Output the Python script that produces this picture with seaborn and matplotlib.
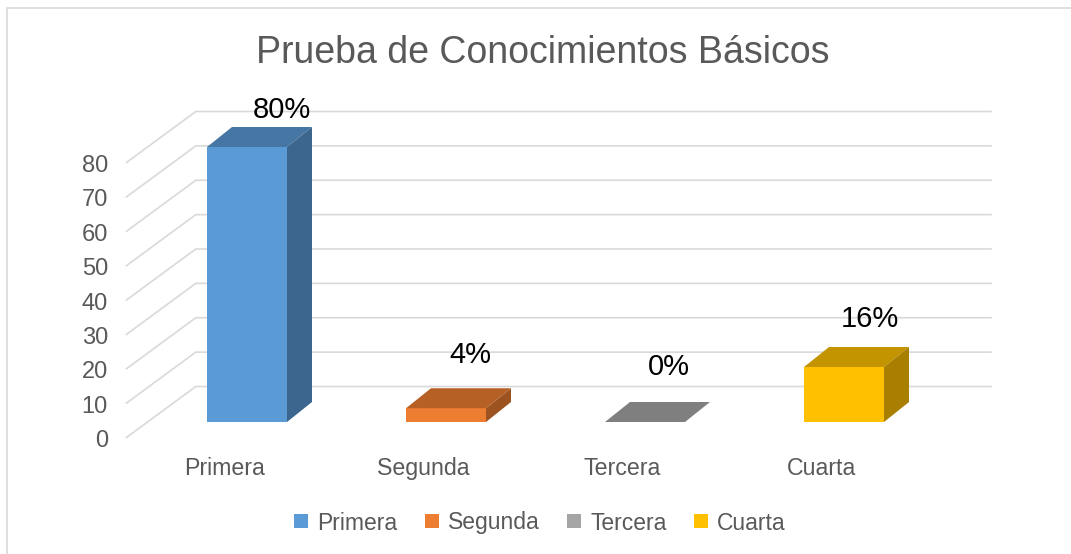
import matplotlib
matplotlib.use("Agg")
import matplotlib.pyplot as plt
import matplotlib.transforms as mtransforms
import numpy as np
import pandas as pd
import seaborn as sns
from matplotlib.lines import Line2D
from matplotlib.patches import Polygon

# data
categories = ["Primera", "Segunda", "Tercera", "Cuarta"]
values = [80, 4, 0, 16]
value_labels = ["80%", "4%", "0%", "16%"]
y_ticks = [0, 10, 20, 30, 40, 50, 60, 70, 80]
title = "Prueba de Conocimientos Básicos"

front_colors = ["#5B9BD5", "#ED7D31", "#A5A5A5", "#FFC000"]
grid_color = "#D9D9D9"
text_color = "#595959"

# label nudges in pixels (dx, dy above the front top edge)
label_nudge = [(35, 29), (24, 45), (24, 47), (26, 40)]

W, H = 1071, 554
sns.set_theme(style="white")
plt.rcParams["font.family"] = ["Liberation Sans", "DejaVu Sans"]

fig = plt.figure(figsize=(W / 100, H / 100), dpi=100)
ax_left, ax_bottom, ax_w, ax_h = 147.5, 422, 796, 275
ax = fig.add_axes([ax_left / W, (H - ax_bottom) / H, ax_w / W, ax_h / H])
ax.patch.set_alpha(0)

df = pd.DataFrame({"nivel": categories, "valor": values})
sns.barplot(
    data=df, x="nivel", y="valor", hue="nivel",
    palette=dict(zip(categories, front_colors)),
    width=0.402, saturation=1, legend=False, errorbar=None,
    linewidth=0, zorder=3, ax=ax,
)
ax.set_xlim(-0.5, 3.5)
ax.set_ylim(0, 80)

# pixel -> data unit sizes
ux = ax_w / 4.0
uy = ax_h / 80.0

# depth offsets (pixels)
front_dx, front_dy = 21.7, 16.0   # floor front edge relative to bar plane
back_dx, back_dy = 48.3, 35.5     # back wall relative to bar plane
bar_dx, bar_dy = 25.0, 20.0       # bar depth

# 3d-looking grid: slanted side wall + back wall
x0, x1 = ax.get_xlim()
for v in y_ticks:
    xs = [x0 - front_dx / ux, x0 + back_dx / ux, x1 + back_dx / ux]
    ys = [v - front_dy / uy, v + back_dy / uy, v + back_dy / uy]
    ax.plot(xs, ys, color=grid_color, lw=1.2, zorder=1, clip_on=False,
            solid_capstyle="butt")

# top and side faces of each bar, shaded from the front colour
ddx, ddy = bar_dx / ux, bar_dy / uy
bars = sorted(ax.patches, key=lambda p: p.get_x())
for p, col in zip(bars, front_colors):
    rgb = np.array(matplotlib.colors.to_rgb(col))
    bx0, bw, bh = p.get_x(), p.get_width(), p.get_height()
    bx1 = bx0 + bw
    top = [(bx0, bh), (bx1, bh), (bx1 + ddx, bh + ddy), (bx0 + ddx, bh + ddy)]
    side = [(bx1, 0), (bx1, bh), (bx1 + ddx, bh + ddy), (bx1 + ddx, ddy)]
    ax.add_patch(Polygon(top, closed=True, facecolor=rgb * 0.77, edgecolor="none",
                         zorder=3, clip_on=False))
    ax.add_patch(Polygon(side, closed=True, facecolor=rgb * 0.66, edgecolor="none",
                         zorder=3, clip_on=False))

# value labels
for p, lab, (ndx, ndy) in zip(bars, value_labels, label_nudge):
    ax.annotate(lab, (p.get_x() + p.get_width() / 2, p.get_height()),
                xytext=(ndx, ndy), textcoords="offset pixels",
                ha="center", va="baseline", fontsize=21, color="black",
                zorder=5, annotation_clip=False)

# axes cosmetics
sns.despine(ax=ax, left=True, bottom=True)
ax.set_xlabel("")
ax.set_ylabel("")
ax.set_yticks(y_ticks)
ax.tick_params(axis="both", length=0, colors=text_color)
ax.tick_params(axis="y", labelsize=17, pad=28.5)
ax.tick_params(axis="x", labelsize=16.7, pad=38)
for lbl in ax.get_yticklabels():
    lbl.set_verticalalignment("baseline")
    lbl.set_transform(lbl.get_transform()
                      + mtransforms.ScaledTranslation(0, -0.25, fig.dpi_scale_trans))
for lbl in ax.get_xticklabels():
    lbl.set_verticalalignment("baseline")
    lbl.set_transform(lbl.get_transform()
                      + mtransforms.ScaledTranslation(-0.23, 0, fig.dpi_scale_trans))

fig.text(543 / W, 1 - 63 / H, title, ha="center", va="baseline",
         fontsize=27, color=text_color)

handles = [Line2D([], [], marker="s", linestyle="", markersize=9.5,
                  markerfacecolor=c, markeredgewidth=0) for c in front_colors]
fig.legend(handles, categories, loc="center", bbox_to_anchor=(540 / W, 1 - 523 / H),
           ncol=4, frameon=False, fontsize=16.5, handlelength=0.6,
           handletextpad=0.4, columnspacing=1.2, labelcolor=text_color)

# chart frame (only left and top edges are visible in the crop)
fig.add_artist(Line2D([7 / W, 7 / W], [0, 1 - 8 / H], color=grid_color, lw=1.2,
                      transform=fig.transFigure))
fig.add_artist(Line2D([7 / W, 1], [1 - 8 / H, 1 - 8 / H], color=grid_color, lw=1.2,
                      transform=fig.transFigure))

fig.savefig("out.png", dpi=100, facecolor="white")
